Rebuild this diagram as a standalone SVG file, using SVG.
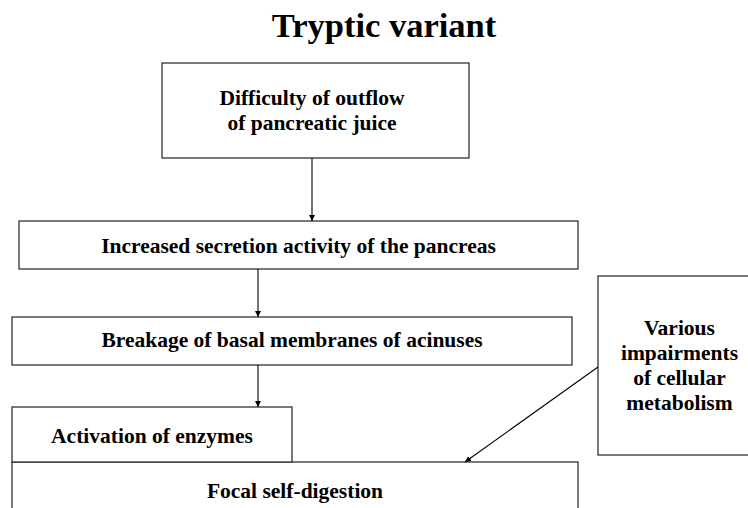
<svg xmlns="http://www.w3.org/2000/svg" width="748" height="508" viewBox="0 0 748 508">
<style>
.box{fill:#fff;stroke:#222;stroke-width:1.2}
.t{font-family:"Liberation Serif","Times New Roman",serif;font-weight:bold;font-size:21.5px;fill:#000;text-anchor:middle}
.title{font-family:"Liberation Serif","Times New Roman",serif;font-weight:bold;font-size:34.5px;fill:#000;text-anchor:middle}
.c{stroke:#000;stroke-width:1.1;fill:none;marker-end:url(#ah)}
</style>
<defs>
<marker id="ah" viewBox="0 0 10 10" refX="10" refY="5" markerWidth="6" markerHeight="6" markerUnits="userSpaceOnUse" orient="auto">
<path d="M0,0 L10,5 L0,10 z" fill="#000"/>
</marker>
</defs>
<rect width="748" height="508" fill="#fff"/>
<text class="title" x="384" y="37">Tryptic variant</text>
<g id="n1">
<rect class="box" x="162" y="63" width="307" height="95"/>
<text class="t" x="312" y="105">Difficulty of outflow</text>
<text class="t" x="312" y="130">of pancreatic juice</text>
</g>
<g id="n2">
<rect class="box" x="19" y="221" width="559" height="48"/>
<text class="t" x="298.5" y="253">Increased secretion activity of the pancreas</text>
</g>
<g id="n3">
<rect class="box" x="12" y="317" width="560" height="48"/>
<text class="t" x="292" y="347">Breakage of basal membranes of acinuses</text>
</g>
<g id="n6">
<rect class="box" x="598" y="276" width="170" height="179"/>
<text class="t" x="679.5" y="335">Various</text>
<text class="t" x="679.5" y="360">impairments</text>
<text class="t" x="679.5" y="385">of cellular</text>
<text class="t" x="679.5" y="410">metabolism</text>
</g>
<g id="n5">
<rect class="box" x="12" y="462" width="566" height="60"/>
<text class="t" x="295" y="498">Focal self-digestion</text>
</g>
<g id="n4">
<rect class="box" x="12" y="407" width="280" height="55"/>
<text class="t" x="152" y="443">Activation of enzymes</text>
</g>
<g id="connectors">
<line class="c" x1="312" y1="158" x2="312" y2="221"/>
<line class="c" x1="258" y1="269" x2="258" y2="317"/>
<line class="c" x1="258" y1="365" x2="258" y2="407"/>
<line class="c" x1="598" y1="367" x2="465" y2="462"/>
</g>
</svg>
